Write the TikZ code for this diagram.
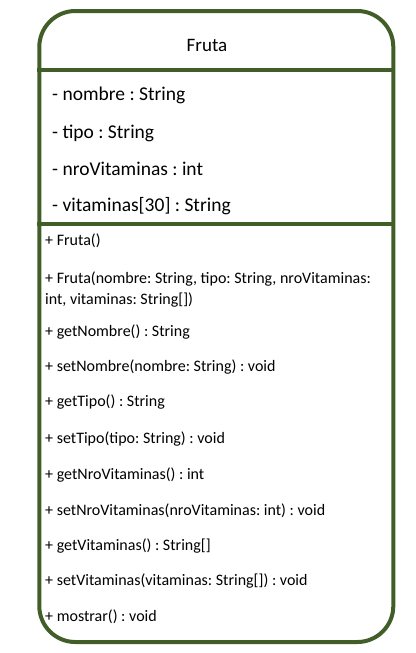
\documentclass[tikz,border=0pt]{standalone}
\usepackage{fontspec}
\setmainfont{Carlito}
\frenchspacing
\definecolor{umlgreen}{RGB}{66,94,40}
\begin{document}
\begin{tikzpicture}[x=1pt,y=-1pt,
  frame/.style={draw=umlgreen,line width=4pt},
  title/.style={inner sep=0pt,anchor=base,font=\fontsize{19}{23}\selectfont},
  attr/.style={inner sep=0pt,anchor=base west,font=\fontsize{19.5}{23}\selectfont},
  meth/.style={inner sep=0pt,anchor=base west,font=\fontsize{16}{21}\selectfont}]
\useasboundingbox (0,0) rectangle (415,653);
\draw[frame,rounded corners=36pt] (39.3,11) rectangle (393.3,642);
\coordinate (d1l) at (37.3,70.3);
\coordinate (d1r) at (395.3,70.3);
\coordinate (d2l) at (37.3,224);
\coordinate (d2r) at (395.3,224);
\draw[frame] (d1l) -- (d1r);
\draw[frame] (d2l) -- (d2r);
\node[title] (name) at (207,51.7) {Fruta};
\node[attr] (a1) at (52,100) {- nombre : String};
\node[attr] (a2) at (52,138.3) {- tipo : String};
\node[attr] (a3) at (52,175) {- nroVitaminas : int};
\node[attr] (a4) at (52,211.7) {- vitaminas[30] : String};
\node[meth] (m1) at (45,245.7) {+ Fruta()};
\node[meth,anchor=west,align=left] (m2) at (45,289.5) {+ Fruta(nombre: String, tipo: String, nroVitaminas:\\int, vitaminas: String[])};
\node[meth] (m3) at (45,336.7) {+ getNombre() : String};
\node[meth] (m4) at (45,371.7) {+ setNombre(nombre: String) : void};
\node[meth] (m5) at (45,406.7) {+ getTipo() : String};
\node[meth] (m6) at (45,443.3) {+ setTipo(tipo: String) : void};
\node[meth] (m7) at (45,479.3) {+ getNroVitaminas() : int};
\node[meth] (m8) at (45,515) {+ setNroVitaminas(nroVitaminas: int) : void};
\node[meth] (m9) at (45,550) {+ getVitaminas() : String[]};
\node[meth] (m10) at (45,585) {+ setVitaminas(vitaminas: String[]) : void};
\node[meth] (m11) at (45,621) {+ mostrar() : void};
\end{tikzpicture}
\end{document}
